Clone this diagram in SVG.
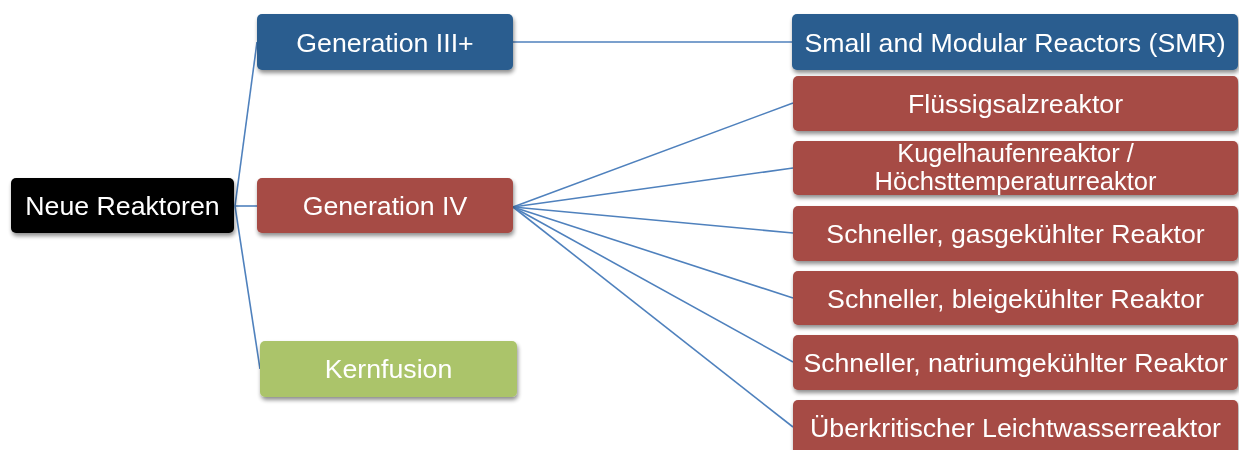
<svg xmlns="http://www.w3.org/2000/svg" width="1239" height="450" viewBox="0 0 1239 450">
<defs>
<filter id="sh" x="-10%" y="-20%" width="120%" height="150%">
<feGaussianBlur in="SourceAlpha" stdDeviation="2"/>
<feOffset dx="1" dy="3" result="b"/>
<feComponentTransfer><feFuncA type="linear" slope="0.45"/></feComponentTransfer>
<feMerge><feMergeNode/><feMergeNode in="SourceGraphic"/></feMerge>
</filter>
</defs>
<style>
.n{filter:url(#sh)}
.t{font-family:"Liberation Sans",Arial,sans-serif;font-size:26.7px;fill:#fff;text-anchor:middle}
.t2{font-size:25.5px}
.blk{fill:#000}
.blu{fill:#295D8F}
.red{fill:#A64B45}
.grn{fill:#ABC46B}
.c line{stroke:#4F81BD;stroke-width:1.6;fill:none}
</style>
<rect width="1239" height="450" fill="#fff"/>
<g class="c" id="connectors">
<line x1="235" y1="206" x2="257" y2="42"/>
<line x1="235" y1="206" x2="257" y2="206"/>
<line x1="235" y1="206" x2="260" y2="369"/>
<line x1="513" y1="42" x2="792" y2="42"/>
<line x1="513" y1="207" x2="793" y2="103"/>
<line x1="513" y1="207" x2="793" y2="168"/>
<line x1="513" y1="207" x2="793" y2="233"/>
<line x1="513" y1="207" x2="793" y2="298"/>
<line x1="513" y1="207" x2="793" y2="362"/>
<line x1="513" y1="207" x2="793" y2="427"/>
</g>
<g id="root" class="n"><rect class="blk" x="11" y="178" width="223" height="55" rx="5"/><text class="t" x="122.5" y="215">Neue Reaktoren</text></g>
<g id="gen3" class="n"><rect class="blu" x="257" y="14" width="256" height="56" rx="5"/><text class="t" x="385" y="51.5">Generation III+</text></g>
<g id="gen4" class="n"><rect class="red" x="257" y="178" width="256" height="55" rx="5"/><text class="t" x="385" y="215">Generation IV</text></g>
<g id="fusion" class="n"><rect class="grn" x="260" y="341" width="257" height="56" rx="5"/><text class="t" x="388.5" y="378">Kernfusion</text></g>
<g id="smr" class="n"><rect class="blu" x="792" y="14" width="446" height="56" rx="5"/><text class="t" x="1015" y="51.5">Small and Modular Reactors (SMR)</text></g>
<g id="msr" class="n"><rect class="red" x="793" y="76" width="445" height="55" rx="5"/><text class="t" x="1015.5" y="113">Flüssigsalzreaktor</text></g>
<g id="htr" class="n"><rect class="red" x="793" y="141" width="445" height="54" rx="5"/><text class="t t2" x="1015.5" y="161.5">Kugelhaufenreaktor /</text><text class="t t2" x="1015.5" y="190">Höchsttemperaturreaktor</text></g>
<g id="gfr" class="n"><rect class="red" x="793" y="206" width="445" height="55" rx="5"/><text class="t" x="1015.5" y="243">Schneller, gasgekühlter Reaktor</text></g>
<g id="lfr" class="n"><rect class="red" x="793" y="271" width="445" height="54" rx="5"/><text class="t" x="1015.5" y="307.5">Schneller, bleigekühlter Reaktor</text></g>
<g id="sfr" class="n"><rect class="red" x="793" y="335" width="445" height="55" rx="5"/><text class="t" x="1015.5" y="372">Schneller, natriumgekühlter Reaktor</text></g>
<g id="scwr" class="n"><rect class="red" x="793" y="400" width="445" height="56" rx="5"/><text class="t" x="1015.5" y="437">Überkritischer Leichtwasserreaktor</text></g>
</svg>
